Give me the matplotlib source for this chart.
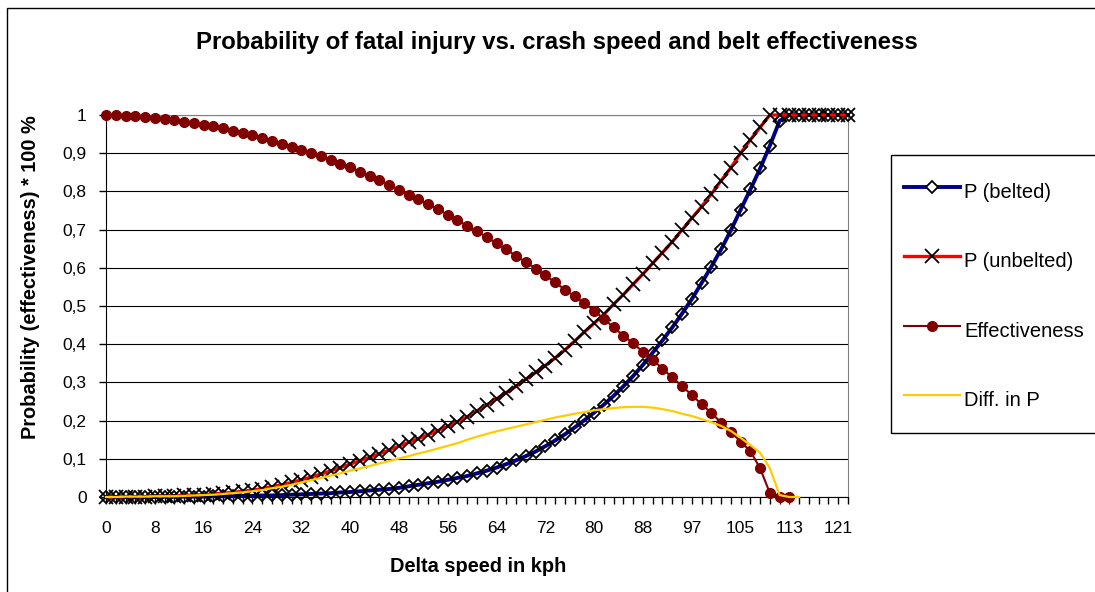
import numpy as np
import matplotlib
matplotlib.use("Agg")
import matplotlib.pyplot as plt
from matplotlib.patches import Rectangle

plt.rcParams["font.family"] = ["Liberation Sans", "DejaVu Sans"]

# speed in kph for every 5th category (categories are 1 mph steps)
speed_labels = ["0", "8", "16", "24", "32", "40", "48", "56", "64", "72",
                "80", "88", "97", "105", "113", "121"]

p_belted = [0.000, 0.000, 0.000, 0.000, 0.000, 0.000, 0.001, 0.001, 0.001, 0.001,
            0.001, 0.002, 0.002, 0.002, 0.003, 0.003, 0.004, 0.004, 0.005, 0.006,
            0.007, 0.008, 0.009, 0.010, 0.012, 0.013, 0.015, 0.017, 0.019, 0.021,
            0.024, 0.028, 0.032, 0.036, 0.040, 0.045, 0.050, 0.055, 0.062, 0.069,
            0.077, 0.086, 0.096, 0.107, 0.119, 0.133, 0.148, 0.164, 0.182, 0.201,
            0.221, 0.242, 0.265, 0.290, 0.317, 0.346, 0.378, 0.410, 0.444, 0.480,
            0.518, 0.560, 0.603, 0.648, 0.698, 0.752, 0.805, 0.860, 0.920, 0.985,
            1.000, 1.000, 1.000, 1.000, 1.000, 1.000, 1.000]

p_unbelted = [0.000, 0.000, 0.001, 0.001, 0.001, 0.002, 0.002, 0.003, 0.004, 0.005,
              0.006, 0.008, 0.010, 0.012, 0.015, 0.018, 0.022, 0.027, 0.032, 0.038,
              0.045, 0.052, 0.060, 0.068, 0.077, 0.086, 0.095, 0.104, 0.113, 0.123,
              0.133, 0.143, 0.153, 0.163, 0.174, 0.185, 0.197, 0.210, 0.225, 0.241,
              0.257, 0.273, 0.290, 0.308, 0.326, 0.344, 0.364, 0.385, 0.408, 0.432,
              0.455, 0.478, 0.505, 0.530, 0.557, 0.584, 0.612, 0.640, 0.668, 0.699,
              0.730, 0.760, 0.793, 0.828, 0.862, 0.900, 0.935, 0.968, 1.000, 1.000,
              1.000, 1.000, 1.000, 1.000, 1.000, 1.000, 1.000]

effectiveness = [1.000, 0.999, 0.998, 0.997, 0.995, 0.993, 0.990, 0.986, 0.982, 0.978,
                 0.975, 0.970, 0.965, 0.959, 0.953, 0.947, 0.939, 0.932, 0.925, 0.917,
                 0.909, 0.900, 0.892, 0.883, 0.873, 0.863, 0.852, 0.841, 0.830, 0.817,
                 0.804, 0.791, 0.779, 0.766, 0.753, 0.739, 0.724, 0.710, 0.696, 0.680,
                 0.664, 0.648, 0.631, 0.615, 0.598, 0.580, 0.562, 0.543, 0.525, 0.507,
                 0.488, 0.466, 0.444, 0.422, 0.402, 0.380, 0.359, 0.336, 0.313, 0.290,
                 0.267, 0.243, 0.220, 0.195, 0.170, 0.145, 0.120, 0.075, 0.010, 0.000,
                 0.000]

diff_p = [0.000, 0.000, 0.001, 0.001, 0.001, 0.002, 0.002, 0.002, 0.003, 0.004,
          0.005, 0.006, 0.008, 0.010, 0.012, 0.015, 0.018, 0.023, 0.027, 0.032,
          0.038, 0.044, 0.050, 0.056, 0.062, 0.069, 0.075, 0.081, 0.088, 0.094,
          0.101, 0.107, 0.114, 0.120, 0.127, 0.134, 0.141, 0.150, 0.158, 0.165,
          0.172, 0.178, 0.184, 0.190, 0.196, 0.202, 0.208, 0.213, 0.218, 0.222,
          0.227, 0.230, 0.233, 0.235, 0.236, 0.236, 0.234, 0.230, 0.225, 0.218,
          0.212, 0.204, 0.196, 0.186, 0.173, 0.155, 0.136, 0.116, 0.075, 0.005,
          0.000, 0.000]

W, H = 1095, 592
fig = plt.figure(figsize=(W / 100, H / 100), dpi=100)
fig.patch.set_facecolor("white")
ax = fig.add_axes([106 / W, 1 - 497 / H, (848 - 106) / W, (497 - 115) / H])

# outer chart border (only top and left visible in the original)
fig.add_artist(Rectangle((7 / W, -0.1), 1.2, 1.1 - 8 / H, transform=fig.transFigure,
                         fill=False, edgecolor="black", linewidth=1.0))
# legend box, runs off the right edge like the original
fig.add_artist(Rectangle((891 / W, 1 - 433 / H), 0.5, (433 - 155) / H,
                         transform=fig.transFigure, fill=False,
                         edgecolor="black", linewidth=1.0))

n = len(p_belted)
x = np.arange(n)

ax.plot(x, p_belted, color="#000080", lw=2.8, marker="D", ms=6.5,
        mfc="none", mec="black", mew=1.3, clip_on=False, label="P (belted)", zorder=3)
ax.plot(x, p_unbelted, color="#FF0000", lw=2.4, marker="x", ms=10,
        mec="black", mew=1.3, clip_on=False, label="P (unbelted)", zorder=4)
ax.plot(x[:len(effectiveness)], effectiveness, color="#800000", lw=1.5, marker="o",
        ms=7, mfc="#800000", mec="#800000", clip_on=False, label="Effectiveness", zorder=5)
ax.plot(x[:len(diff_p)], diff_p, color="#FFCC00", lw=1.6, clip_on=False,
        label="Diff. in P", zorder=6)

ax.set_xlim(0, n - 1)
ax.set_ylim(0, 1)

ax.set_xticks(x)
ax.set_xticklabels([speed_labels[i // 5] if i % 5 == 0 else "" for i in x])
yt = np.round(np.arange(0, 1.01, 0.1), 1)
ax.set_yticks(yt)
ax.set_yticklabels([("%g" % v).replace(".", ",") for v in yt])
ax.tick_params(axis="x", length=5, width=1, pad=12.5, labelsize=12.5, direction="out")
ax.tick_params(axis="y", length=5, width=1, pad=9, labelsize=12.5, direction="out")

ax.grid(axis="y", color="black", lw=0.8)
ax.set_axisbelow(True)
for side in ["top", "right"]:
    ax.spines[side].set_color("#808080")
for side in ["left", "bottom"]:
    ax.spines[side].set_color("black")

fig.text(557 / W, 1 - 42 / H,
         "Probability of fatal injury vs. crash speed and belt effectiveness",
         ha="center", va="center", fontsize=17.2, fontweight="bold")
fig.text(478 / W, 1 - 566 / H, "Delta speed in kph",
         ha="center", va="center", fontsize=14.4, fontweight="bold")
fig.text(31 / W, 1 - 277 / H, "Probability (effectiveness) * 100 %",
         ha="center", va="center", rotation=90, fontsize=14.4, fontweight="bold")

leg = fig.legend(loc="upper left", bbox_to_anchor=(904 / W, 1 - 176 / H),
                 fontsize=14.5, frameon=False, numpoints=1,
                 handlelength=2.8, handletextpad=0.2, handleheight=2.0,
                 labelspacing=1.9, borderpad=0, borderaxespad=0)
leg.legend_handles[0].set_markerfacecolor("white")

fig.savefig("out.png", dpi=100)
